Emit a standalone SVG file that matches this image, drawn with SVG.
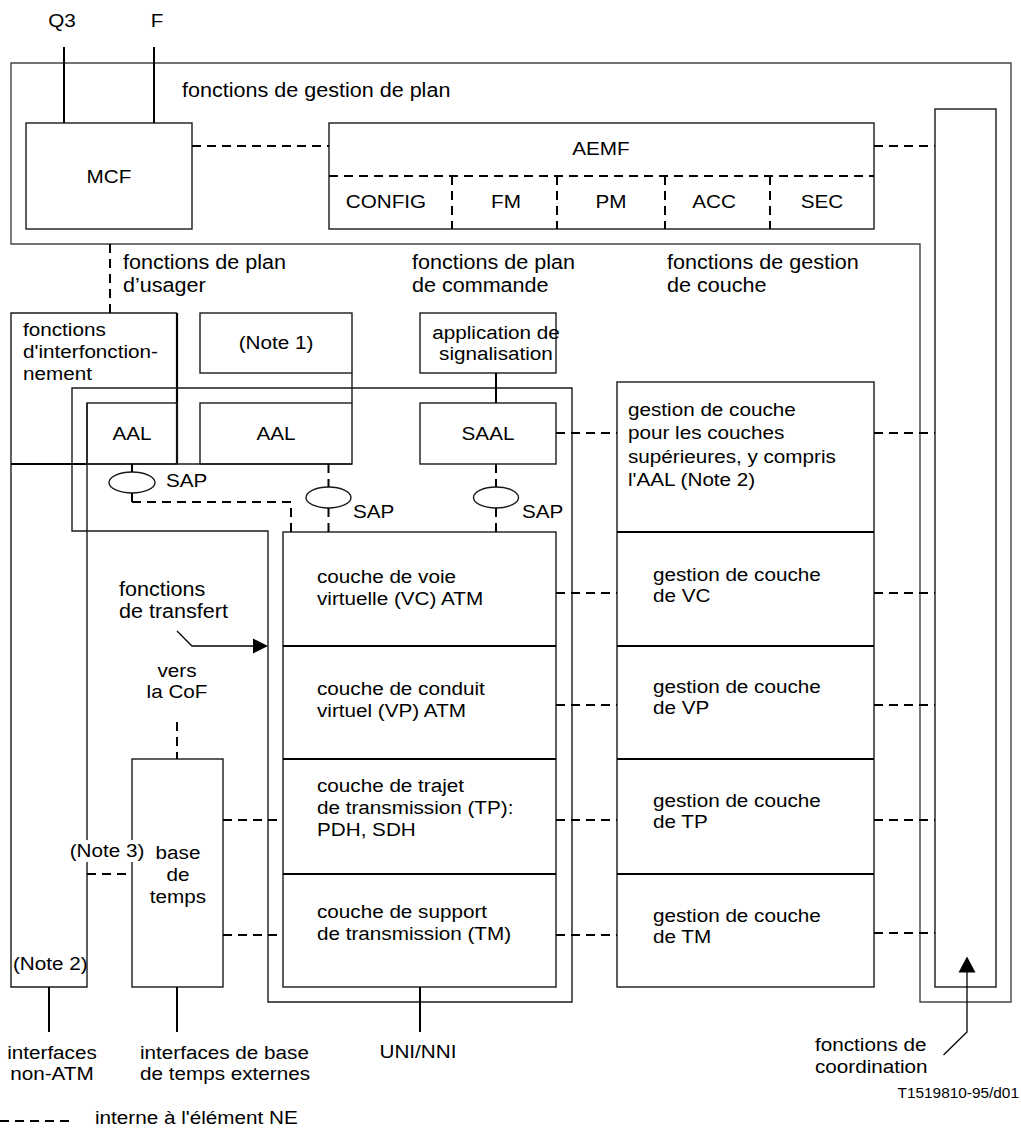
<svg xmlns="http://www.w3.org/2000/svg" width="1021" height="1128" viewBox="0 0 1021 1128">
  <style>
    .frame { fill: none; stroke: #444; stroke-width: 1.4; }
    .box { fill: none; stroke: #1a1a1a; stroke-width: 1.4; }
    .thick { fill: none; stroke: #000; stroke-width: 2.2; }
    .solid { fill: none; stroke: #000; stroke-width: 2; }
    .thin { fill: none; stroke: #000; stroke-width: 1.3; }
    .dash { fill: none; stroke: #000; stroke-width: 2; stroke-dasharray: 9 6; }
    .head { fill: #000; stroke: none; }
    text { font-family: "Liberation Sans", Arial, Helvetica, sans-serif; font-size: 18.8px; fill: #000;
           transform-box: fill-box; transform-origin: 0% 50%; transform: scaleX(1.1); }
    text.h { font-size: 19.6px; }
    text.c { text-anchor: middle; transform-origin: 50% 50%; }
    text.r { text-anchor: end; transform-origin: 100% 50%; }
    text.s { font-size: 14px; }
  </style>

  <!-- plane management frame (L-shaped) -->
  <g id="plane-management">
    <path class="frame" d="M11,63 H1011 V1002 H920 V244 H11 Z"/>
    <text class="h" x="182" y="97">fonctions de gestion de plan</text>
  </g>

  <!-- coordination functions column -->
  <g id="coordination">
    <rect class="box" x="935" y="109" width="61" height="878"/>
  </g>

  <g id="mcf">
    <rect class="box" x="26" y="123" width="166" height="106"/>
    <text class="c" x="109" y="183">MCF</text>
  </g>

  <g id="aemf">
    <rect class="box" x="329" y="123" width="545" height="106"/>
    <path class="dash" d="M329,176 H874 M452,176 V229 M557,176 V229 M665,176 V229 M770,176 V229"/>
    <text class="c" x="601" y="155">AEMF</text>
    <text class="c" x="386" y="208">CONFIG</text>
    <text class="c" x="506" y="208">FM</text>
    <text class="c" x="611" y="208">PM</text>
    <text class="c" x="714" y="208">ACC</text>
    <text class="c" x="822" y="208">SEC</text>
  </g>

  <!-- plane headings -->
  <g id="headings">
    <text class="h" x="123" y="269">fonctions de plan<tspan x="123" dy="23">d’usager</tspan></text>
    <text class="h" x="412" y="269">fonctions de plan<tspan x="412" dy="23">de commande</tspan></text>
    <text class="h" x="667" y="269">fonctions de gestion<tspan x="667" dy="23">de couche</tspan></text>
  </g>

  <g id="interworking">
    <path class="box" d="M177,313 H11 V987 H87 V403"/>
    <path class="thick" d="M177,313 V464"/>
    <path class="solid" d="M11,464 H87"/>
    <text x="23" y="336">fonctions<tspan x="23" dy="22">d'interfonction-</tspan><tspan x="23" dy="22">nement</tspan></text>
    <text x="13" y="970">(Note 2)</text>
  </g>

  <g id="note1">
    <rect class="box" x="200" y="313" width="152" height="60"/>
    <path class="box" d="M352,373 V403"/>
    <text class="c" x="276" y="349">(Note 1)</text>
  </g>

  <!-- ATM container -->
  <g id="atm-container">
    <path class="box" d="M72,388 H572 V1002 H268 V531 H72 Z"/>
  </g>

  <g id="aal-1">
    <rect class="box" x="87" y="403" width="90" height="61"/>
    <text class="c" x="132" y="440">AAL</text>
  </g>

  <g id="aal-2">
    <rect class="box" x="200" y="403" width="152" height="61"/>
    <path class="box" d="M87,464 H352"/>
    <text class="c" x="276" y="440">AAL</text>
  </g>

  <g id="signalling-application">
    <rect class="box" x="420" y="313" width="136" height="60"/>
    <text class="c" x="496" y="339">application de<tspan x="496" dy="21.5">signalisation</tspan></text>
  </g>

  <g id="saal">
    <rect class="box" x="420" y="403" width="136" height="61"/>
    <text class="c" x="488" y="440">SAAL</text>
  </g>

  <g id="sap">
    <ellipse class="box" cx="132" cy="482.5" rx="23" ry="10.5"/>
    <ellipse class="box" cx="328.5" cy="497.5" rx="22.5" ry="10.5"/>
    <ellipse class="box" cx="496" cy="497.5" rx="22.5" ry="10.5"/>
    <text x="166" y="487">SAP</text>
    <text x="353" y="518">SAP</text>
    <text x="522" y="518">SAP</text>
  </g>

  <g id="atm-layers">
    <rect class="box" x="283" y="532" width="273" height="455"/>
    <path class="solid" d="M283,646 H556 M283,759 H556 M283,874 H556"/>
    <text x="317" y="583">couche de voie<tspan x="317" dy="22">virtuelle (VC) ATM</tspan></text>
    <text x="317" y="695">couche de conduit<tspan x="317" dy="22">virtuel (VP) ATM</tspan></text>
    <text x="317" y="792">couche de trajet<tspan x="317" dy="22">de transmission (TP):</tspan><tspan x="317" dy="22">PDH, SDH</tspan></text>
    <text x="317" y="918">couche de support<tspan x="317" dy="22">de transmission (TM)</tspan></text>
  </g>

  <g id="layer-management">
    <rect class="box" x="617" y="382" width="257" height="605"/>
    <path class="solid" d="M617,532 H874 M617,646 H874 M617,759 H874 M617,874 H874"/>
    <text x="628" y="416">gestion de couche<tspan x="628" dy="23.4">pour les couches</tspan><tspan x="628" dy="23.4">supérieures, y compris</tspan><tspan x="628" dy="23.4">l'AAL (Note 2)</tspan></text>
    <text x="653" y="581">gestion de couche<tspan x="653" dy="21.5">de VC</tspan></text>
    <text x="653" y="693">gestion de couche<tspan x="653" dy="21.5">de VP</tspan></text>
    <text x="653" y="807">gestion de couche<tspan x="653" dy="21.5">de TP</tspan></text>
    <text x="653" y="922">gestion de couche<tspan x="653" dy="21.5">de TM</tspan></text>
  </g>

  <g id="timing">
    <rect class="box" x="132" y="759" width="91" height="228"/>
    <text class="c" x="178" y="859">base<tspan x="178" dy="22">de</tspan><tspan x="178" dy="22">temps</tspan></text>
    <text class="c" x="177" y="677">vers<tspan x="177" dy="21">la CoF</tspan></text>
  </g>

  <!-- connectors -->
  <g id="connectors">
    <!-- external interfaces -->
    <path class="solid" d="M64,47 V123 M154,47 V123"/>
    <path class="solid" d="M496,373 V403"/>
    <path class="solid" d="M49,987 V1032 M177,987 V1032 M420,987 V1032"/>
    <path class="solid" d="M132,464 V472 M132,493 V502"/>

    <!-- NE-internal links -->
    <path class="dash" d="M192,146 H329"/>
    <path class="dash" d="M874,146 H935"/>
    <path class="dash" d="M110,244 V313"/>
    <path class="dash" d="M132,502 H291 V532"/>
    <path class="dash" d="M328.5,464 V487 M328.5,508 V532"/>
    <path class="dash" d="M496,464 V487 M496,508 V532"/>
    <path class="dash" d="M556,433 H617 M874,433 H935"/>
    <path class="dash" d="M556,593 H617 M874,593 H935"/>
    <path class="dash" d="M556,705 H617 M874,705 H935"/>
    <path class="dash" d="M556,820 H617 M874,820 H935 M223,820 H283"/>
    <path class="dash" d="M556,935 H617 M874,933 H935 M223,935 H283"/>
    <path class="dash" d="M177,722 V759"/>
    <path class="dash" d="M87,874 H132"/>

    <!-- transfer functions pointer -->
    <path class="thin" d="M177,631 L192,646 H255"/>
    <polygon class="head" points="253,638.5 268,646 253,653.5"/>

    <!-- coordination functions pointer -->
    <path class="thin" d="M943.5,1055 L967,1032 V971"/>
    <polygon class="head" points="958.5,972.5 967,956.5 975.5,972.5"/>
  </g>

  <!-- free labels -->
  <g id="labels">
    <text class="c" x="62" y="27">Q3</text>
    <text class="c" x="157" y="27">F</text>
    <text class="h" x="119" y="596">fonctions<tspan x="119" dy="22">de transfert</tspan></text>
    <rect x="74" y="840" width="66" height="22" fill="#fff"/>
    <text class="c" x="107" y="857">(Note 3)</text>
    <text class="c" x="52" y="1059">interfaces<tspan x="52" dy="21">non-ATM</tspan></text>
    <text x="140" y="1059">interfaces de base<tspan x="140" dy="21">de temps externes</tspan></text>
    <text class="c" x="418" y="1058">UNI/NNI</text>
    <text x="815" y="1051">fonctions de<tspan x="815" dy="22">coordination</tspan></text>
    <text class="r s" x="1019" y="1098">T1519810-95/d01</text>
  </g>

  <g id="legend">
    <path class="dash" d="M0,1121 H72"/>
    <text x="95" y="1124">interne à l'élément NE</text>
  </g>
</svg>
